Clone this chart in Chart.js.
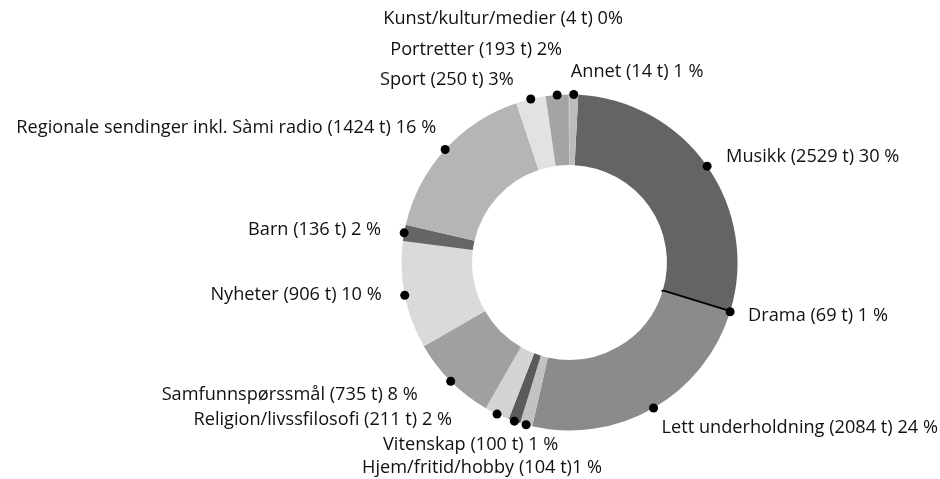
<!DOCTYPE html>
<html>
<head>
<meta charset="utf-8">
<script src="https://cdn.jsdelivr.net/npm/chart.js@4/dist/chart.umd.min.js"></script>
<style>
  html, body { margin: 0; padding: 0; background: #fff; }
  #wrap { width: 940px; height: 479px; }
</style>
</head>
<body>
<div id="wrap"><canvas id="donut" width="940" height="479"></canvas></div>
<script>
// slice order, clockwise from the top
const categories = ['Musikk', 'Drama', 'Lett underholdning', 'Hjem/fritid/hobby', 'Vitenskap',
  'Religion/livssfilosofi', 'Samfunnspørssmål', 'Nyheter', 'Barn',
  'Regionale sendinger inkl. Sàmi radio', 'Sport', 'Portretter', 'Kunst/kultur/medier', 'Annet'];

// slice sizes as drawn in the picture (hours; Drama shows as a line, Annet a bit wider)
const sliceValues = [2529, 3, 2084, 104, 100, 211, 735, 906, 136, 1424, 250, 193, 4, 75];

// label texts as printed
const labelTexts = [
  'Musikk (2529 t) 30 %', 'Drama (69 t) 1 %', 'Lett underholdning (2084 t) 24 %',
  'Hjem/fritid/hobby (104 t)1 %', 'Vitenskap (100 t) 1 %', 'Religion/livssfilosofi (211 t) 2 %',
  'Samfunnspørssmål (735 t) 8 %', 'Nyheter (906 t) 10 %', 'Barn (136 t) 2 %',
  'Regionale sendinger inkl. Sàmi radio (1424 t) 16 %', 'Sport (250 t) 3%', 'Portretter (193 t) 2%',
  'Kunst/kultur/medier (4 t) 0%', 'Annet (14 t) 1 %'];

const sliceColors = ['#646464', '#000000', '#8b8b8b', '#c2c2c2', '#5a5a5a', '#d4d4d4', '#a0a0a0',
  '#dadada', '#666666', '#b5b5b5', '#e2e2e2', '#a4a4a4', '#b0b0b0', '#bcbcbc'];

// where each label sits relative to its dot: [dx, dy, align, showDot]
const labelLayout = [
  [19, -9, 'left', true], [18, 4, 'left', true], [8, 20, 'left', true],
  [76, 43, 'right', true], [44, 24, 'right', true], [-45, 6, 'right', true],
  [-33, 14, 'right', true], [-23, 0, 'right', true], [-23, -3, 'right', true],
  [-9, -22, 'right', true], [-17, -19, 'right', true], [5, -45, 'right', true],
  [54, -76, 'right', false], [-3, -23, 'left', true]
];

const labelPlugin = {
  id: 'dotLabels',
  afterDraw(chart) {
    const ctx = chart.ctx;
    const arcs = chart.getDatasetMeta(0).data;
    ctx.save();
    // size the font so the longest label is as wide as in the original
    ctx.font = '100px "Open Sans"';
    const size = 100 * 420 / ctx.measureText(labelTexts[9]).width;
    ctx.font = size.toFixed(2) + 'px "Open Sans"';
    ctx.textBaseline = 'middle';
    arcs.forEach((arc, i) => {
      const p = arc.getProps(['x', 'y', 'startAngle', 'endAngle', 'outerRadius'], true);
      const mid = (p.startAngle + p.endAngle) / 2;
      const dx = p.x + Math.cos(mid) * p.outerRadius;
      const dy = p.y + Math.sin(mid) * p.outerRadius;
      const lay = labelLayout[i];
      if (lay[3]) {
        ctx.beginPath();
        ctx.arc(dx, dy, 4.5, 0, Math.PI * 2);
        ctx.fillStyle = '#000';
        ctx.fill();
      }
      ctx.fillStyle = '#111';
      ctx.textAlign = lay[2];
      ctx.fillText(labelTexts[i], dx + lay[0], dy + lay[1]);
    });
    ctx.restore();
  }
};

new Chart(document.getElementById('donut'), {
  type: 'doughnut',
  data: {
    labels: categories,
    datasets: [{
      data: sliceValues,
      backgroundColor: sliceColors,
      borderColor: '#000',
      borderWidth: sliceValues.map((v, i) => i === 1 ? 3 : 0),
      hoverOffset: 0,
      offset: 0
    }]
  },
  options: {
    responsive: false,
    animation: false,
    rotation: 3,
    radius: 168,
    cutout: '58%',
    layout: { padding: { left: 400, right: 201, top: 94, bottom: 48 } },
    plugins: {
      legend: { display: false },
      tooltip: { enabled: false }
    },
    events: []
  },
  plugins: [labelPlugin]
});
</script>
</body>
</html>
